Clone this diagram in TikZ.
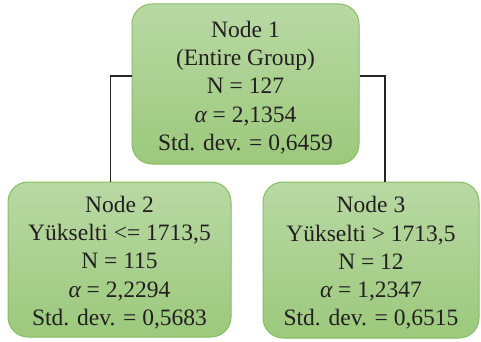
\documentclass[tikz,border=0pt]{standalone}
\usepackage{fontspec}
\setmainfont{Liberation Serif}
\definecolor{boxtop}{HTML}{B9D9A4}
\definecolor{boxbot}{HTML}{9CC97C}
\definecolor{boxline}{HTML}{86BC62}
\definecolor{txt}{HTML}{231F20}
\newcommand{\alphait}{{\itshape α}}
\begin{document}
\begin{tikzpicture}[x=1pt,y=1pt,
  treebox/.style={draw=boxline, line width=1pt, rounded corners=20pt,
    top color=boxtop, bottom color=boxbot, inner sep=0pt},
  boxtext/.style={align=center, text=txt, inner sep=0pt,
    font=\fontsize{23.5}{28.2}\selectfont},
  link/.style={draw=black!85, line width=1.3pt}]
\useasboundingbox (0,0) rectangle (481,341);
% the three boxes of the tree
\node[treebox, minimum width=227pt, minimum height=160pt] (n1) at (245.5,257) {};
\node[treebox, minimum width=223pt, minimum height=155pt] (n2) at (119.5,81.5) {};
\node[treebox, minimum width=216pt, minimum height=156pt] (n3) at (371,81) {};
% their texts
\node[boxtext] (t1) at ([yshift=-3.5pt]n1.center)
  {Node 1\\(Entire Group)\\N = 127\\\alphait{} = 2,1354\\Std. dev. = 0,6459};
\node[boxtext] (t2) at ([yshift=-3pt]n2.center)
  {Node 2\\Yükselti <= 1713,5\\N = 115\\\alphait{} = 2,2294\\Std. dev. = 0,5683};
\node[boxtext] (t3) at ([yshift=-3pt]n3.center)
  {Node 3\\Yükselti > 1713,5\\N = 12\\\alphait{} = 1,2347\\Std. dev. = 0,6515};
% connectors
\draw[link] ([yshift=8pt]n1.west) -| ([xshift=-8.8pt]n2.north);
\draw[link] ([yshift=8pt]n1.east) -| ([xshift=14pt]n3.north);
\end{tikzpicture}
\end{document}
